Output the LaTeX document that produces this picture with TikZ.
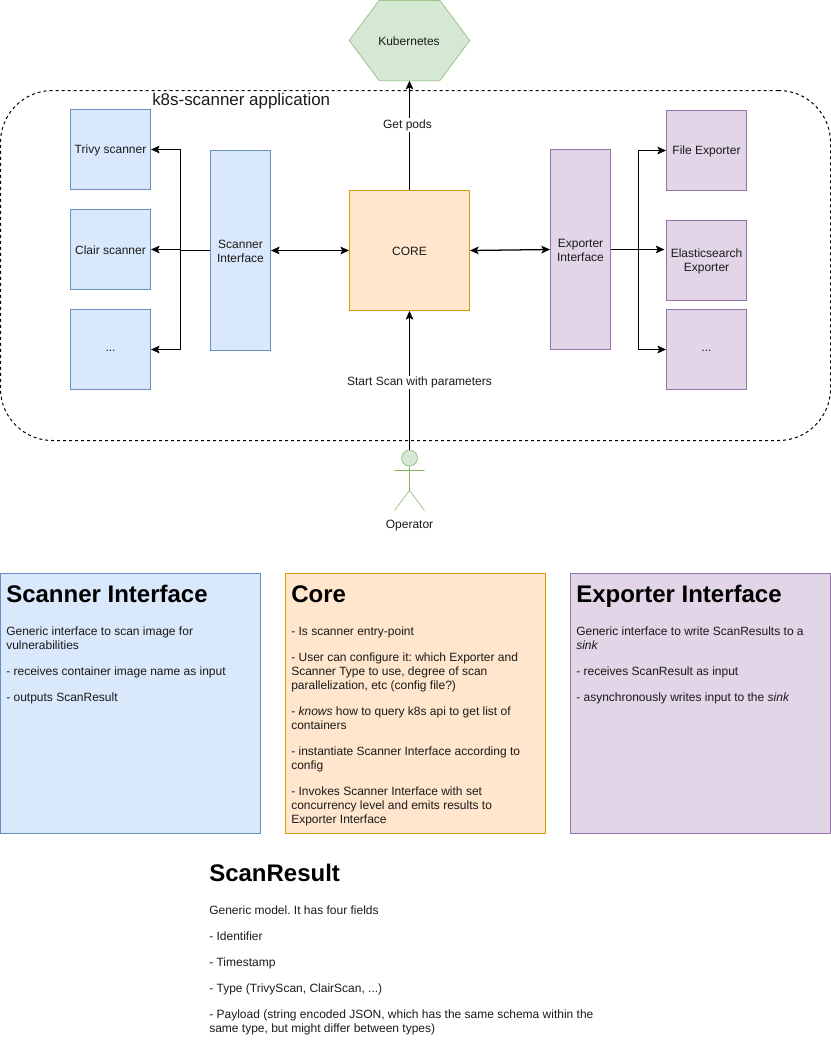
\documentclass[tikz,border=0pt]{standalone}
\usepackage{fontspec}
\setmainfont{Liberation Sans}
\usetikzlibrary{arrows.meta,calc}
\definecolor{bluefill}{HTML}{DAE8FC}\definecolor{bluedraw}{HTML}{6C8EBF}
\definecolor{greenfill}{HTML}{D5E8D4}\definecolor{greendraw}{HTML}{82B366}
\definecolor{orangefill}{HTML}{FFE6CC}\definecolor{orangedraw}{HTML}{D79B00}
\definecolor{purplefill}{HTML}{E1D5E7}\definecolor{purpledraw}{HTML}{9673A6}
\definecolor{txt}{HTML}{1A1A1A}
\newcommand{\para}{\\[9pt]}
\tikzset{
 x=0.75pt,y=-0.75pt,
 every node/.style={font=\fontsize{9}{10.5}\selectfont\frenchspacing,text=txt,inner sep=0pt},
 line width=0.75pt,
 box/.style={draw,rectangle,align=center,line width=0.75pt},
 boxtext/.style={label={[yshift=-0.75pt,align=center]center:{#1}}},
 blue box/.style={box,fill=bluefill,draw=bluedraw},
 orange box/.style={box,fill=orangefill,draw=orangedraw},
 purple box/.style={box,fill=purplefill,draw=purpledraw},
 small box/.style={minimum width=60pt,minimum height=60pt},
 tall box/.style={minimum width=45pt,minimum height=150pt},
 info box/.style={minimum width=195pt,minimum height=195pt},
 conn/.style={black,-{Stealth[length=6.5pt,width=5.8pt,inset=1.5pt]}},
 conn2/.style={black,{Stealth[length=6.5pt,width=5.8pt,inset=1.5pt]}-{Stealth[length=6.5pt,width=5.8pt,inset=1.5pt]}},
 link/.style={black},
 label bg/.style={fill=white,inner ysep=1pt,inner xsep=0.5pt},
 heading/.style={font=\fontsize{18}{21}\selectfont\bfseries,text=black,anchor=base west},
 body/.style={anchor=north west,align=left},
}
\begin{document}
\begin{tikzpicture}
\useasboundingbox (0,0) rectangle (831,1054);
% application frame
\node[draw=black,dashed,dash pattern=on 2.25pt off 2.25pt,rectangle,rounded corners=39pt,minimum width=622.5pt,minimum height=262.5pt,line width=0.75pt] (app) at (415.5,265.5) {};
\node[font=\fontsize{12.7}{14}\selectfont,anchor=west] (apptitle) at (152,101.5) {k8s-scanner application};
% Kubernetes
\node[minimum width=90pt,minimum height=60pt] (k8s) at (409.5,40.5) {};
\draw[draw=greendraw,fill=greenfill] (k8s.west) -- ($(k8s.north west)+(30,0)$) -- ($(k8s.north east)+(-30,0)$) -- (k8s.east) -- ($(k8s.south east)+(-30,0)$) -- ($(k8s.south west)+(30,0)$) -- cycle;
\node (k8slabel) at (409,41) {Kubernetes};
% scanners
\node[blue box,small box,boxtext={Trivy scanner}] (trivy) at (110.5,149.5) {};
\node[blue box,small box,boxtext={Clair scanner}] (clair) at (110.5,249.5) {};
\node[blue box,small box,boxtext={...}] (sdots) at (110.5,349.5) {};
\node[blue box,tall box,boxtext={Scanner\\Interface}] (si) at (240.5,250.5) {};
\node[orange box,minimum width=90pt,minimum height=90pt,boxtext={CORE}] (core) at (409.5,250.5) {};
\node[purple box,tall box,boxtext={Exporter\\Interface}] (ei) at (580.5,249.5) {};
\node[purple box,small box,boxtext={File Exporter}] (file) at (706.5,150.5) {};
\node[purple box,small box,boxtext={Elasticsearch\\Exporter}] (es) at (706.5,260.5) {};
\node[purple box,small box,boxtext={...}] (edots) at (706.5,349.5) {};
% operator
\node[circle,draw=greendraw,fill=greenfill,minimum size=12pt] (op) at (409.5,458) {};
\coordinate (arml) at (394.5,470.5);
\coordinate (armr) at (424.5,470.5);
\coordinate (hip) at (409.5,490.5);
\coordinate (legl) at (394.5,510.5);
\coordinate (legr) at (424.5,510.5);
\draw[greendraw] (op.south) -- (hip) (arml) -- (armr) (legl) -- (hip) -- (legr);
\node (oplabel) at (409.5,525.5) {Operator};
% connectors
\coordinate (strunk) at (180.5,250.5);
\coordinate (etrunk) at (638.5,249.5);
\draw[link] (si.west) -- (strunk);
\draw[conn] (strunk) |- (trivy.east);
\draw[conn] (strunk) |- (clair.east);
\draw[conn] (strunk) |- (sdots.east);
\draw[conn2] (si.east) -- (core.west);
\draw[conn2,line width=0.95pt] (core.east) -- (ei.west);
\draw[link] (ei.east) -- (etrunk);
\draw[conn] (etrunk) |- (file.west);
\draw[conn,shorten >=1.2pt] (etrunk) -- (es.west |- etrunk);
\draw[conn] (etrunk) |- (edots.west);
\draw[conn] (core.north) -- (k8s.south);
\node[label bg] (getpods) at (407.5,125) {Get pods};
\draw[conn] (op.north) -- (core.south);
\node[label bg] (startscan) at (419.5,382.5) {Start Scan with parameters};
% info boxes
\node[blue box,info box] (sbox) at (130.5,703.5) {};
\node[orange box,info box] (cbox) at (415.5,703.5) {};
\node[purple box,info box] (ebox) at (700.5,703.5) {};
\node[heading] (shead) at (6,602) {Scanner Interface};
\node[body] (stext) at (6,627) {Generic interface to scan image for\\vulnerabilities\para
- receives container image name as input\para
- outputs ScanResult};
\node[heading] (chead) at (291,602) {Core};
\node[body] (ctext) at (291,627) {- Is scanner entry-point\para
- User can configure it: which Exporter and\\Scanner Type to use, degree of scan\\parallelization, etc (config file?)\para
- \textit{knows} how to query k8s api to get list of\\containers\para
- instantiate Scanner Interface according to\\config\para
- Invokes Scanner Interface with set\\concurrency level and emits results to\\Exporter Interface};
\node[heading] (ehead) at (576,602) {Exporter Interface};
\node[body] (etext) at (576,627) {Generic interface to write ScanResults to a\\\textit{sink}\para
- receives ScanResult as input\para
- asynchronously writes input to the \textit{sink}};
\node[heading] (rhead) at (209,881) {ScanResult};
\node[body] (rtext) at (209,906) {Generic model. It has four fields\para
- Identifier\para
- Timestamp\para
- Type (TrivyScan, ClairScan, ...)\para
- Payload (string encoded JSON, which has the same schema within the\\same type, but might differ between types)};
\end{tikzpicture}
\end{document}
